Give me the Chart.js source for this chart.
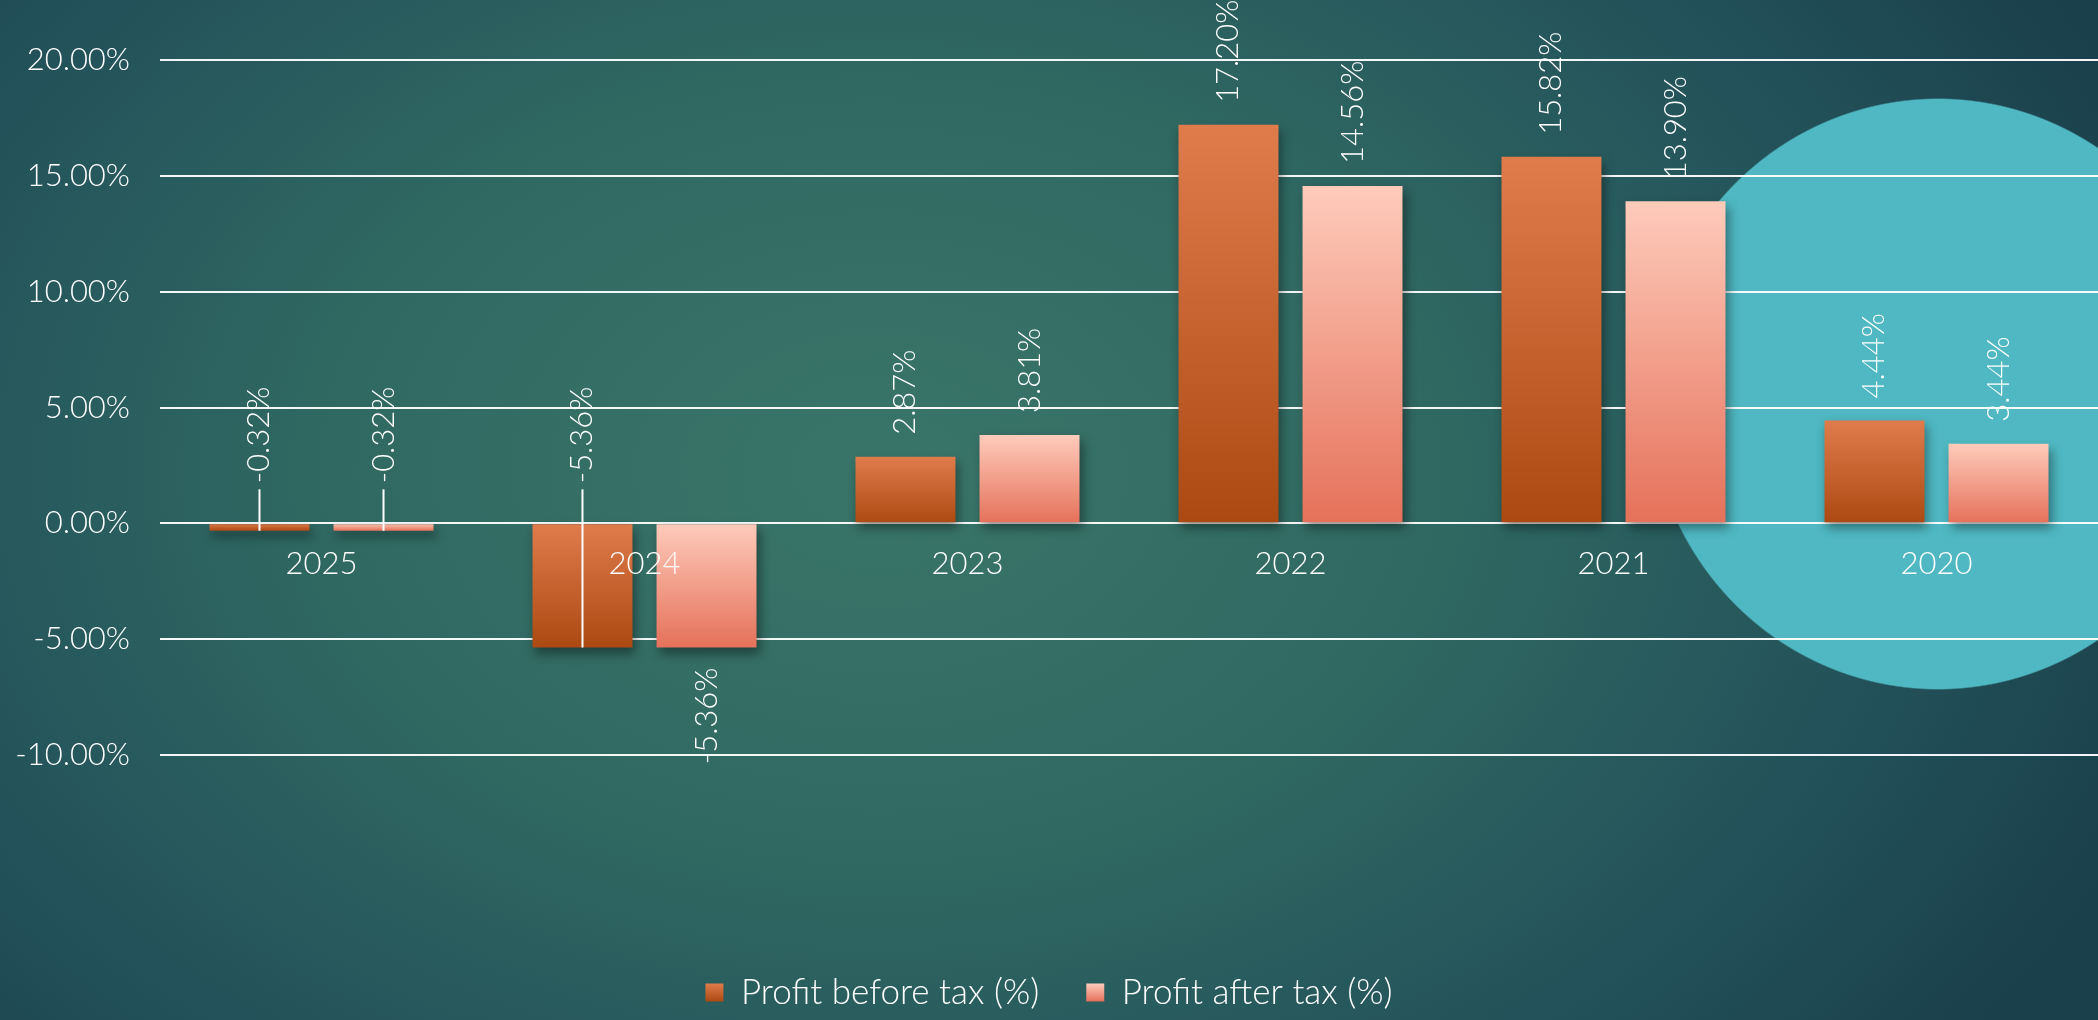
<!DOCTYPE html>
<html lang="en">
<head>
  <meta charset="UTF-8">
  <title>Profit before / after tax</title>
  <script src="https://cdn.jsdelivr.net/npm/chart.js"></script>
  <style>
    html, body {
      margin: 0;
      padding: 0;
      width: 2098px;
      height: 1020px;
      overflow: hidden;
    }
    body {
      /* slide background: teal gradient + cyan disc on the right */
      background:
        radial-gradient(ellipse 290px 296px at 1938px 394px, #4fb8c2 99.5%, rgba(79,184,194,0) 100%),
        radial-gradient(ellipse 1350px 950px at 880px 470px, #3a7569 0%, #306962 40%, #23525a 75%, #1a404c 100%);
    }
    canvas { display: block; }
  </style>
</head>
<body>
<canvas id="chart" width="2098" height="1020"></canvas>

<script>
  const years = ["2025", "2024", "2023", "2022", "2021", "2020"];
  const profitBeforeTax = [-0.32, -5.36, 2.87, 17.20, 15.82, 4.44];
  const profitAfterTax = [-0.32, -5.36, 3.81, 14.56, 13.90, 3.44];
  const yMin = -10, yMax = 20, yStep = 5;

  // labels that sit above the axis with a leader line: [dataset, index]
  const liftedLabels = [[0, 0], [1, 0], [0, 1]];

  const FONT = "Lato";
  const pct = v => v.toFixed(2) + "%";

  // vertical gradient per bar, from the end nearest the top to the other end
  function barGradient(top, bottom) {
    return (ctx) => {
      const chart = ctx.chart;
      const y = chart.scales.y;
      if (!y || !chart.chartArea || ctx.raw === undefined) return top;
      const v = ctx.raw;
      const y0 = y.getPixelForValue(Math.max(v, 0));
      const y1 = y.getPixelForValue(Math.min(v, 0));
      const g = chart.ctx.createLinearGradient(0, y0, 0, y1 + 0.01);
      g.addColorStop(0, top);
      g.addColorStop(1, bottom);
      return g;
    };
  }

  const colors = [["#e07c4c", "#ac4912"], ["#fecbbb", "#e5715a"]];

  // soft drop shadow under the bars
  const barShadow = {
    id: "barShadow",
    beforeDatasetsDraw(chart) {
      const c = chart.ctx;
      c.save();
      c.shadowColor = "rgba(0, 0, 0, 0.4)";
      c.shadowBlur = 10;
      c.shadowOffsetX = 3;
      c.shadowOffsetY = 6;
    },
    afterDatasetsDraw(chart) {
      chart.ctx.restore();
    }
  };

  // gradient legend boxes, placed from the legend's own hit boxes
  const legendGradient = {
    id: "legendGradient",
    beforeDraw(chart) {
      const lg = chart.legend;
      if (!lg || !lg.legendHitBoxes) return;
      const size = lg.options.labels.font.size;
      const bh = lg.options.labels.boxHeight;
      lg.legendItems.forEach((item, i) => {
        const hb = lg.legendHitBoxes[i];
        if (!hb) return;
        const top = hb.top + Math.max((size - bh) / 2, 0);
        const g = chart.ctx.createLinearGradient(0, top, 0, top + bh);
        g.addColorStop(0, colors[i][0]);
        g.addColorStop(1, colors[i][1]);
        item.fillStyle = g;
      });
    }
  };

  // rotated value labels
  const valueLabels = {
    id: "valueLabels",
    afterDraw(chart) {
      const c = chart.ctx;
      const zero = chart.scales.y.getPixelForValue(0);
      c.save();
      c.font = "300 31px " + FONT;
      c.fillStyle = "#ffffff";
      c.strokeStyle = "#ffffff";
      c.lineWidth = 2;
      c.textBaseline = "middle";
      chart.data.datasets.forEach((ds, di) => {
        chart.getDatasetMeta(di).data.forEach((bar, i) => {
          const v = ds.data[i];
          const lifted = liftedLabels.some(([d, k]) => d === di && k === i);
          let anchor, align;
          if (v >= 0) {
            anchor = bar.y - 22;
            align = "left";
          } else if (lifted) {
            anchor = zero - 40;
            align = "left";
            c.beginPath();
            c.moveTo(bar.x, anchor + 6);
            c.lineTo(bar.x, bar.y);
            c.stroke();
          } else {
            anchor = bar.y + 20;
            align = "right";
          }
          c.save();
          c.translate(bar.x, anchor);
          c.rotate(-Math.PI / 2);
          c.textAlign = align;
          c.fillText(pct(v), 0, 0);
          c.restore();
        });
      });
      c.restore();
    }
  };

  const tickFont = { family: FONT, size: 31, weight: "300" };

  new Chart(document.getElementById("chart").getContext("2d"), {
    type: "bar",
    data: {
      labels: years,
      datasets: [
        {
          label: "Profit before tax (%)",
          data: profitBeforeTax,
          backgroundColor: barGradient(colors[0][0], colors[0][1]),
          categoryPercentage: 0.768,
          barPercentage: 0.806
        },
        {
          label: "Profit after tax (%)",
          data: profitAfterTax,
          backgroundColor: barGradient(colors[1][0], colors[1][1]),
          categoryPercentage: 0.768,
          barPercentage: 0.806
        }
      ]
    },
    options: {
      responsive: false,
      animation: false,
      layout: { padding: { top: 60, right: 0, bottom: 0, left: 0 } },
      plugins: {
        tooltip: { enabled: false },
        legend: {
          position: "bottom",
          // empty title only reserves the gap between the plot and the legend row
          title: { display: true, text: "", font: { size: 10 }, padding: { top: 161, bottom: 0 } },
          labels: {
            color: "#ffffff",
            font: { family: FONT, size: 35, weight: "300" },
            boxWidth: 18,
            boxHeight: 18,
            padding: 47
          }
        }
      },
      scales: {
        x: {
          position: { y: 0 },
          grid: { display: false, drawTicks: false },
          border: { display: false },
          ticks: { color: "#ffffff", font: tickFont, padding: 22, z: 1 }
        },
        y: {
          min: yMin,
          max: yMax,
          grid: { color: "rgba(255,255,255,0.95)", lineWidth: 2, drawTicks: false },
          border: { display: false },
          ticks: { stepSize: yStep, color: "#ffffff", font: tickFont, padding: 30, callback: v => pct(v) },
          afterFit(axis) { axis.width = 160; }
        }
      }
    },
    plugins: [barShadow, legendGradient, valueLabels]
  });
</script>
</body>
</html>
